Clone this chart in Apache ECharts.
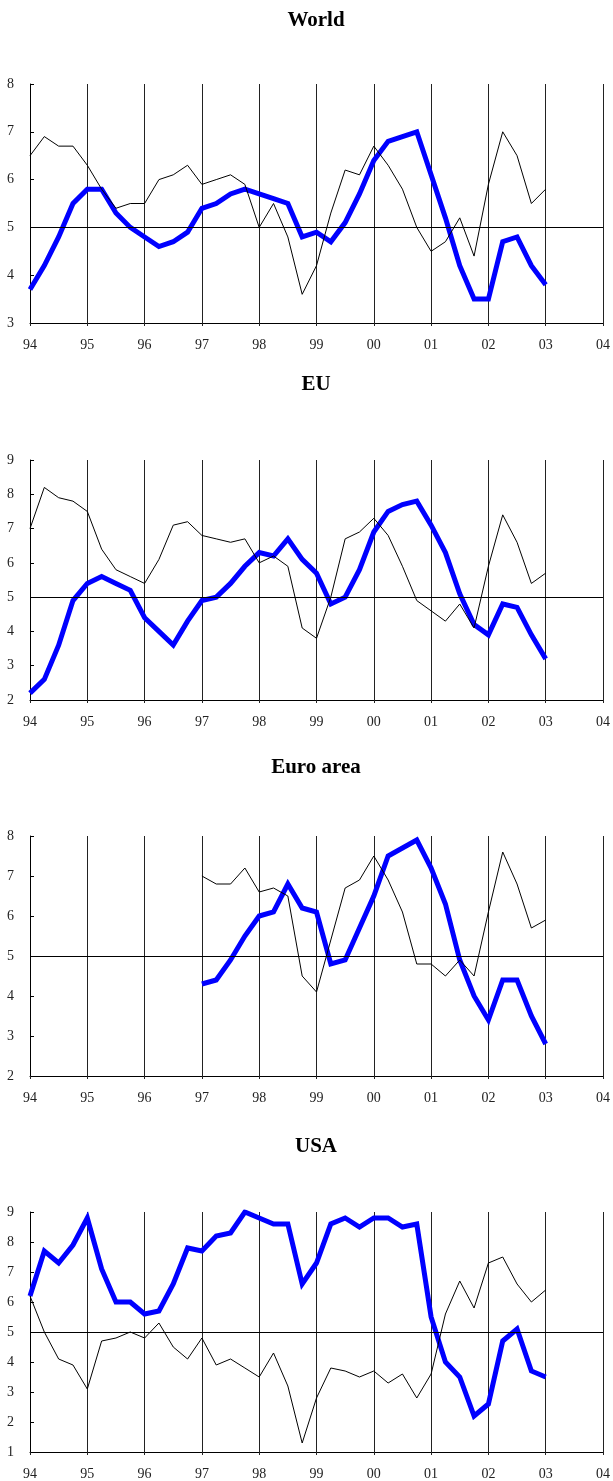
<!DOCTYPE html>
<html>
<head>
<meta charset="utf-8">
<script src="https://cdn.jsdelivr.net/npm/echarts@6/dist/echarts.min.js"></script>
<style>
  html, body { margin: 0; padding: 0; background: #fff; }
  #chart { width: 613px; height: 1481px; }
</style>
</head>
<body>
<div id="chart"></div>
<script>
// Quarterly categories 1994Q1 .. 2004Q1
const quarters = [
  '94Q1','94Q2','94Q3','94Q4','95Q1','95Q2','95Q3','95Q4',
  '96Q1','96Q2','96Q3','96Q4','97Q1','97Q2','97Q3','97Q4',
  '98Q1','98Q2','98Q3','98Q4','99Q1','99Q2','99Q3','99Q4',
  '00Q1','00Q2','00Q3','00Q4','01Q1','01Q2','01Q3','01Q4',
  '02Q1','02Q2','02Q3','02Q4','03Q1','03Q2','03Q3','03Q4','04Q1'
];

const panelTitles = ['World', 'EU', 'Euro area', 'USA'];
const yMins = [3, 2, 2, 1];
const yMaxs = [8, 9, 8, 9];

// thin black lines
const worldBlack = [6.5,6.9,6.7,6.7,6.3,5.8,5.4,5.5,5.5,6.0,6.1,6.3,5.9,6.0,6.1,5.9,5.0,5.5,4.8,3.6,
                    4.2,5.3,6.2,6.1,6.7,6.3,5.8,5.0,4.5,4.7,5.2,4.4,5.9,7.0,6.5,5.5,5.8];
const euBlack    = [7.0,8.2,7.9,7.8,7.5,6.4,5.8,5.6,5.4,6.1,7.1,7.2,6.8,6.7,6.6,6.7,6.0,6.2,5.9,4.1,
                    3.8,5.0,6.7,6.9,7.3,6.8,5.9,4.9,4.6,4.3,4.8,4.1,5.9,7.4,6.6,5.4,5.7];
const euroBlack  = [null,null,null,null,null,null,null,null,null,null,null,null,
                    7.0,6.8,6.8,7.2,6.6,6.7,6.5,4.5,4.1,5.4,6.7,6.9,7.5,6.9,6.1,4.8,4.8,4.5,4.9,4.5,
                    6.1,7.6,6.8,5.7,5.9];
const usaBlack   = [6.2,5.0,4.1,3.9,3.1,4.7,4.8,5.0,4.8,5.3,4.5,4.1,4.8,3.9,4.1,3.8,3.5,4.3,3.2,1.3,
                    2.8,3.8,3.7,3.5,3.7,3.3,3.6,2.8,3.6,5.6,6.7,5.8,7.3,7.5,6.6,6.0,6.4];

// thick blue lines
const worldBlue = [3.7,4.2,4.8,5.5,5.8,5.8,5.3,5.0,4.8,4.6,4.7,4.9,5.4,5.5,5.7,5.8,5.7,5.6,5.5,4.8,
                   4.9,4.7,5.1,5.7,6.4,6.8,6.9,7.0,6.1,5.2,4.2,3.5,3.5,4.7,4.8,4.2,3.8];
const euBlue    = [2.2,2.6,3.6,4.9,5.4,5.6,5.4,5.2,4.4,4.0,3.6,4.3,4.9,5.0,5.4,5.9,6.3,6.2,6.7,6.1,
                   5.7,4.8,5.0,5.8,6.9,7.5,7.7,7.8,7.1,6.3,5.1,4.2,3.9,4.8,4.7,3.9,3.2];
const euroBlue  = [null,null,null,null,null,null,null,null,null,null,null,null,
                   4.3,4.4,4.9,5.5,6.0,6.1,6.8,6.2,6.1,4.8,4.9,5.7,6.5,7.5,7.7,7.9,7.2,6.3,4.9,4.0,
                   3.4,4.4,4.4,3.5,2.8];
const usaBlue   = [6.2,7.7,7.3,7.9,8.8,7.1,6.0,6.0,5.6,5.7,6.6,7.8,7.7,8.2,8.3,9.0,8.8,8.6,8.6,6.6,
                   7.3,8.6,8.8,8.5,8.8,8.8,8.5,8.6,5.5,4.0,3.5,2.2,2.6,4.7,5.1,3.7,3.5];

const blackSeries = [worldBlack, euBlack, euroBlack, usaBlack];
const blueSeries  = [worldBlue, euBlue, euroBlue, usaBlue];

// layout
const gridTops    = [84, 460, 836, 1212];
const gridHeights = [239, 240, 240, 240];
const titleTops   = [5, 369, 752, 1131];

const FONT = '"Liberation Serif", "Times New Roman", serif';
const isYear = (i) => i % 4 === 0;

const option = {
  animation: false,
  backgroundColor: '#fff',
  title: panelTitles.map((t, i) => ({
    text: t,
    left: 311,
    top: titleTops[i],
    textAlign: 'center',
    textStyle: { fontFamily: FONT, fontWeight: 'bold', fontSize: 21, color: '#000' }
  })),
  grid: gridTops.map((top, i) => ({
    left: 30, right: 9, top: top, height: gridHeights[i], containLabel: false
  })),
  xAxis: gridTops.map((_, i) => ({
    gridIndex: i,
    type: 'category',
    data: quarters,
    boundaryGap: false,
    axisLine: { show: true, lineStyle: { color: '#000', width: 1 } },
    axisTick: { show: true, interval: isYear, length: 3, lineStyle: { color: '#222' } },
    axisLabel: {
      interval: isYear,
      formatter: (v) => v.slice(0, 2),
      fontFamily: FONT, fontSize: 14, color: '#222', margin: 15
    },
    splitLine: { show: true, interval: isYear, lineStyle: { color: '#222', width: 1 } }
  })),
  yAxis: gridTops.map((_, i) => ({
    gridIndex: i,
    type: 'value',
    min: yMins[i],
    max: yMaxs[i],
    interval: 1,
    axisLine: { show: true, lineStyle: { color: '#000', width: 1 } },
    axisTick: { show: true, inside: true, length: 4, lineStyle: { color: '#000' } },
    axisLabel: { fontFamily: FONT, fontSize: 14, color: '#222', margin: 16 },
    splitLine: { show: false }
  })),
  series: []
};

for (let i = 0; i < 4; i++) {
  option.series.push({
    type: 'line',
    xAxisIndex: i, yAxisIndex: i,
    data: blueSeries[i],
    symbol: 'none',
    z: 3,
    lineStyle: { color: '#0000ff', width: 5, join: 'miter', cap: 'butt' },
    markLine: {
      silent: true,
      symbol: 'none',
      label: { show: false },
      lineStyle: { color: '#000', type: 'solid', width: 1 },
      data: [{ yAxis: 5 }]
    }
  });
  option.series.push({
    type: 'line',
    xAxisIndex: i, yAxisIndex: i,
    data: blackSeries[i],
    symbol: 'none',
    z: 4,
    lineStyle: { color: '#000', width: 1, join: 'miter' }
  });
}

const chart = echarts.init(document.getElementById('chart'), null, { renderer: 'canvas' });
chart.setOption(option);
</script>
</body>
</html>
